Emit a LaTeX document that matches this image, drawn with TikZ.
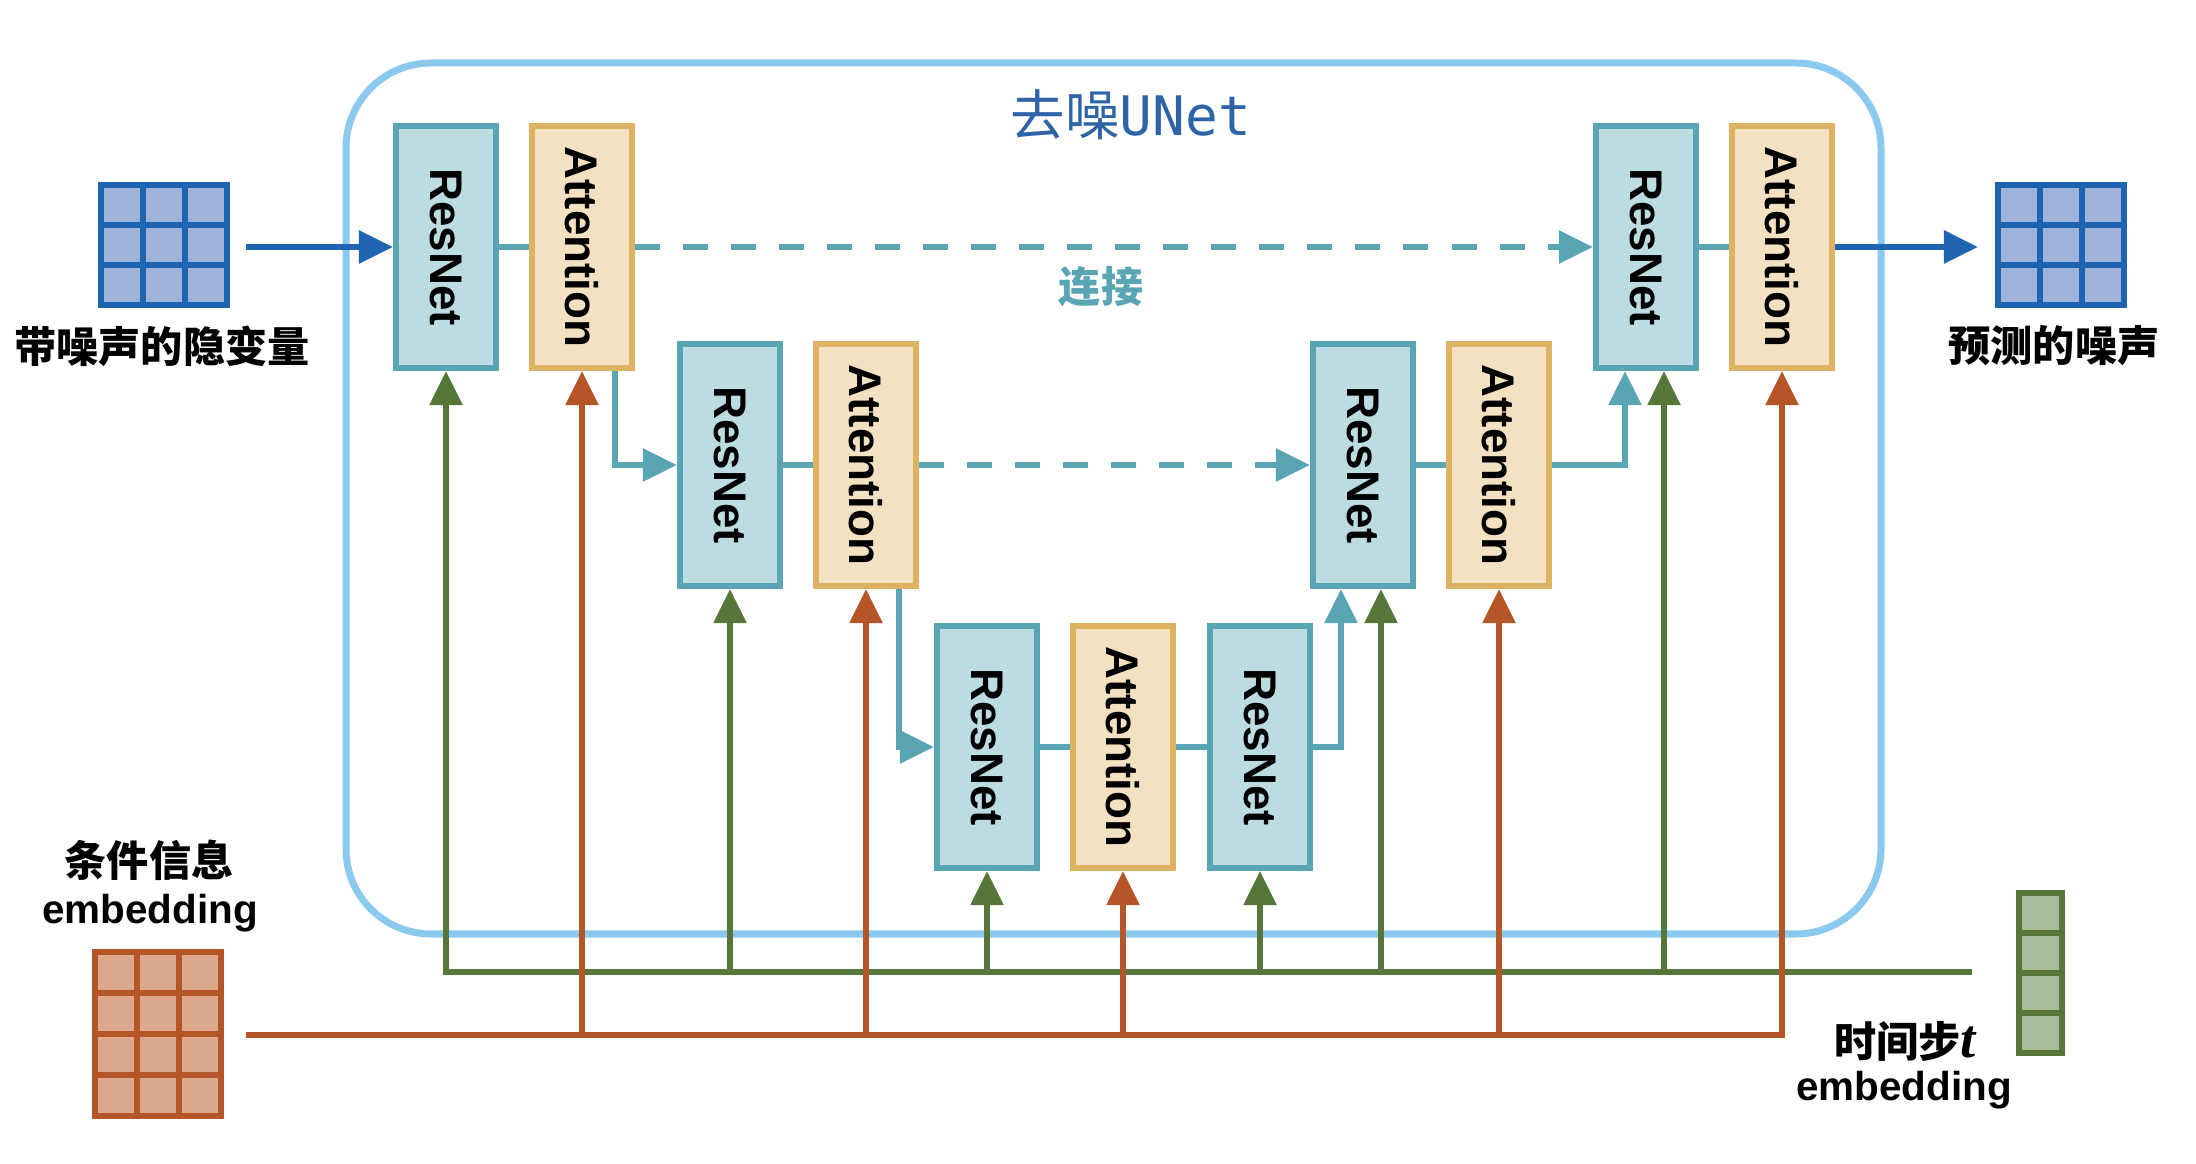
\documentclass[tikz,border=0pt]{standalone}
\usepackage{fontspec}
\usepackage{graphicx}
\usetikzlibrary{arrows.meta}

\newfontfamily\cjk{Noto Sans CJK SC}
\newfontfamily\boxfont{Liberation Sans}
\newfontfamily\unetfont{DejaVu Sans Mono}
\newfontfamily\stepfont{Liberation Serif}

\definecolor{resfill}{HTML}{BCDCE1}
\definecolor{resline}{HTML}{5AA5B4}
\definecolor{attfill}{HTML}{F3E1C1}
\definecolor{attline}{HTML}{DDB261}
\definecolor{unetline}{HTML}{8CC9EE}
\definecolor{titleblue}{HTML}{2E64A7}
\definecolor{noiseline}{HTML}{1F64B1}
\definecolor{noisefill}{HTML}{9EB3DA}
\definecolor{timegreen}{HTML}{56763A}
\definecolor{timefill}{HTML}{A9BB98}
\definecolor{condorange}{HTML}{B55628}
\definecolor{condfill}{HTML}{DCA98F}

\tikzset{
  resbox/.style = {draw = resline, fill = resfill, line width = 0.06cm, minimum width = 1cm, minimum height = 2.42cm, inner sep = 0pt, font = \boxfont\bfseries\fontsize{13}{15}\selectfont},
  attbox/.style = {resbox, draw = attline, fill = attfill},
  headarrow/.style = {-{Triangle[length = 0.34cm, width = 0.32cm]}},
  link/.style = {draw = resline, line width = 0.055cm},
  skiplink/.style = {link, headarrow, dash pattern = on 0.25cm off 0.23cm},
  noiselink/.style = {draw = noiseline, line width = 0.06cm, headarrow},
  timelink/.style = {draw = timegreen, line width = 0.055cm},
  condlink/.style = {draw = condorange, line width = 0.055cm},
  noisecell/.style = {draw = noiseline, fill = noisefill, line width = 0.06cm},
  condcell/.style = {draw = condorange, fill = condfill, line width = 0.06cm},
  timecell/.style = {draw = timegreen, fill = timefill, line width = 0.06cm},
  cnlabel/.style = {font = \cjk\bfseries\fontsize{12}{14}\selectfont},
  enlabel/.style = {font = \boxfont\bfseries\fontsize{11.5}{14}\selectfont}
}

\begin{document}
\begin{tikzpicture}[x = 0.01cm, y = -0.01cm]
  \useasboundingbox (0, 0) rectangle (2196, 1164);

  \draw [unetline, line width = 0.07cm, rounded corners = 0.85cm] (346, 63) rectangle (1881, 934);
  \node [text = titleblue, font = \fontsize{15.5}{18}\selectfont] (title) at (1131, 115) {{\cjk 去噪}{\unetfont UNet}};

  \foreach \i in {0, 1, 2}
    \foreach \j in {0, 1, 2}
      \draw [noisecell] ({101 + 42*\i}, {185 + 40*\j}) rectangle ++(42, 40);
  \foreach \i in {0, 1, 2}
    \foreach \j in {0, 1, 2}
      \draw [noisecell] ({1998 + 42*\i}, {185 + 40*\j}) rectangle ++(42, 40);
  \foreach \i in {0, 1, 2}
    \foreach \j in {0, ..., 3}
      \draw [condcell] ({95 + 42*\i}, {952 + 41*\j}) rectangle ++(42, 41);
  \foreach \j in {0, ..., 3}
    \draw [timecell] (2019, {893 + 40*\j}) rectangle ++(43, 40);

  \node [cnlabel] (noisylbl) at (162, 346) {带噪声的隐变量};
  \node [cnlabel] (predlbl) at (2054, 346) {预测的噪声};
  \node [cnlabel] (condlbl) at (149, 860) {条件信息};
  \node [enlabel] (condemb) at (150, 913) {embedding};
  \node [cnlabel] (timelbl) at (1905, 1041) {时间步{\stepfont\bfseries\itshape\fontsize{15.5}{14}\selectfont t}};
  \node [enlabel] (timeemb) at (1904, 1090) {embedding};

  \node [resbox] (r1) at (446, 247) {\rotatebox{-90}{ResNet}};
  \node [attbox] (a1) at (582, 247) {\rotatebox{-90}{Attention}};
  \node [resbox] (r2) at (730, 465) {\rotatebox{-90}{ResNet}};
  \node [attbox] (a2) at (866, 465) {\rotatebox{-90}{Attention}};
  \node [resbox] (r3) at (987, 747) {\rotatebox{-90}{ResNet}};
  \node [attbox] (a3) at (1123, 747) {\rotatebox{-90}{Attention}};
  \node [resbox] (r4) at (1260, 747) {\rotatebox{-90}{ResNet}};
  \node [resbox] (r5) at (1363, 465) {\rotatebox{-90}{ResNet}};
  \node [attbox] (a5) at (1499, 465) {\rotatebox{-90}{Attention}};
  \node [resbox] (r6) at (1646, 247) {\rotatebox{-90}{ResNet}};
  \node [attbox] (a6) at (1782, 247) {\rotatebox{-90}{Attention}};

  \coordinate (noisein) at (246, 247);
  \coordinate (noiseout) at (1978, 247);
  \coordinate (tend) at (1972, 972);
  \coordinate (cstart) at (246, 1035);

  \draw [noiselink] (noisein) -- (r1.west);
  \draw [noiselink] (a6.east) -- (noiseout);

  \draw [link] (r1.east) -- (a1.west);
  \draw [link, headarrow] ([xshift = -0.2cm]a1.south east) |- (r2.west);
  \draw [link] (r2.east) -- (a2.west);
  \draw [link, headarrow] ([xshift = -0.2cm]a2.south east) |- (r3.west);
  \draw [link] (r3.east) -- (a3.west);
  \draw [link] (a3.east) -- (r4.west);
  \draw [link, headarrow] (r4.east) -| ([xshift = -0.22cm]r5.south);
  \draw [link] (r5.east) -- (a5.west);
  \draw [link, headarrow] (a5.east) -| ([xshift = -0.21cm]r6.south);
  \draw [link] (r6.east) -- (a6.west);

  \draw [skiplink] (a1.east) -- (r6.west);
  \draw [skiplink] (a2.east) -- (r5.west);
  \node [cnlabel, text = resline] (skiplbl) at (1101, 287) {连接};

  \draw [timelink, headarrow] (tend) -- (r1.south |- tend) -- (r1.south);
  \draw [timelink, headarrow] (r2.south |- tend) -- (r2.south);
  \draw [timelink, headarrow] (r3.south |- tend) -- (r3.south);
  \draw [timelink, headarrow] (r4.south |- tend) -- (r4.south);
  \draw [timelink, headarrow] ([xshift = 0.18cm]r5.south |- tend) -- ([xshift = 0.18cm]r5.south);
  \draw [timelink, headarrow] ([xshift = 0.18cm]r6.south |- tend) -- ([xshift = 0.18cm]r6.south);

  \draw [condlink, headarrow] (cstart) -- (a6.south |- cstart) -- (a6.south);
  \draw [condlink, headarrow] (a1.south |- cstart) -- (a1.south);
  \draw [condlink, headarrow] (a2.south |- cstart) -- (a2.south);
  \draw [condlink, headarrow] (a3.south |- cstart) -- (a3.south);
  \draw [condlink, headarrow] (a5.south |- cstart) -- (a5.south);
\end{tikzpicture}
\end{document}
